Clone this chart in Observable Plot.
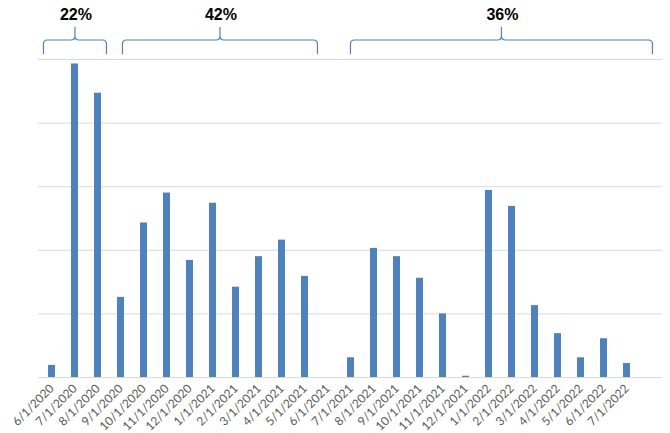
<!DOCTYPE html>
<html>
<head>
<meta charset="utf-8">
<script src="https://cdn.jsdelivr.net/npm/d3@7"></script>
<script src="https://cdn.jsdelivr.net/npm/@observablehq/plot@0.6"></script>
<style>
  html, body { margin: 0; padding: 0; background: #ffffff; }
</style>
</head>
<body>
<div id="chart"></div>
<script>
// Monthly categories (x axis tick labels)
const months = [
  "6/1/2020", "7/1/2020", "8/1/2020", "9/1/2020", "10/1/2020", "11/1/2020",
  "12/1/2020", "1/1/2021", "2/1/2021", "3/1/2021", "4/1/2021", "5/1/2021",
  "6/1/2021", "7/1/2021", "8/1/2021", "9/1/2021", "10/1/2021", "11/1/2021",
  "12/1/2021", "1/1/2022", "2/1/2022", "3/1/2022", "4/1/2022", "5/1/2022",
  "6/1/2022", "7/1/2022"
];
// A trailing empty category exists in the original chart
const xDomain = [...months, ""];

// Bar values (gridlines every 10)
const values = [
  1.9, 49.3, 44.7, 12.6, 24.3, 29.0,
  18.4, 27.4, 14.2, 19.0, 21.6, 15.9,
  0, 3.1, 20.3, 19.0, 15.6, 10.0,
  0.2, 29.4, 26.9, 11.3, 6.9, 3.1,
  6.1, 2.2
];

// Gridline values
const yTicks = [0, 10, 20, 30, 40, 50];

// Period annotations (braces above the bars)
const periodLabels = ["22%", "42%", "36%"];
const periodFirst = ["6/1/2020", "9/1/2020", "7/1/2021"];
const periodLast = ["8/1/2020", "5/1/2021", ""];

const data = months.map((m, i) => ({ month: m, value: values[i] }));

const barColor = "#4F81BD";
const paddingInner = 0.7;
// how far (px) each brace reaches beyond its first/last bar centers
const braceExtend = [[8, 9], [-2, 13], [0, 3]];

function braces(index, scales, vals, dims) {
  const x = scales.x;
  const step = x(months[1]) - x(months[0]);
  const bw = step * (1 - paddingInner);
  const g = d3.create("svg:g");
  const top = dims.marginTop;
  const yb = top - 19, ye = top - 5, yc = top - 32, r = 4;
  periodLabels.forEach((lab, i) => {
    const x0 = x(periodFirst[i]) + bw / 2 - braceExtend[i][0];
    const x1 = x(periodLast[i]) + bw / 2 + braceExtend[i][1];
    const xm = (x0 + x1) / 2;
    const d = `M${x0},${ye} V${yb + r} Q${x0},${yb} ${x0 + r},${yb} H${xm - r} Q${xm},${yb} ${xm},${yb - r} V${yc}` +
              ` M${xm},${yb - r} Q${xm},${yb} ${xm + r},${yb} H${x1 - r} Q${x1},${yb} ${x1},${yb + r} V${ye}`;
    g.append("path")
      .attr("d", d)
      .attr("fill", "none")
      .attr("stroke", barColor)
      .attr("stroke-width", 1.2);
    g.append("text")
      .attr("x", xm + 1)
      .attr("y", top - 39)
      .attr("text-anchor", "middle")
      .attr("fill", "#000000")
      .attr("font-weight", "bold")
      .attr("font-size", "16px")
      .attr("font-family", "Liberation Sans, Arial, sans-serif")
      .text(lab);
  });
  return g.node();
}

const chart = Plot.plot({
  width: 670,
  height: 433,
  marginTop: 59,
  marginBottom: 56,
  marginLeft: 38,
  marginRight: 8,
  style: {
    fontFamily: "Lato, Liberation Sans, Arial, sans-serif",
    fontSize: "12px",
    color: "#595959",
    background: "#ffffff"
  },
  x: {
    domain: xDomain,
    paddingInner: paddingInner,
    paddingOuter: paddingInner / 2,
    label: null,
    tickSize: 0,
    tickPadding: 9,
    tickRotate: -45
  },
  y: {
    domain: [0, 50],
    axis: null
  },
  marks: [
    Plot.ruleY(yTicks, { stroke: "#d9d9d9", strokeWidth: 1 }),
    Plot.barY(data, { x: "month", y: "value", fill: barColor }),
    braces
  ]
});

document.getElementById("chart").appendChild(chart);
</script>
</body>
</html>
